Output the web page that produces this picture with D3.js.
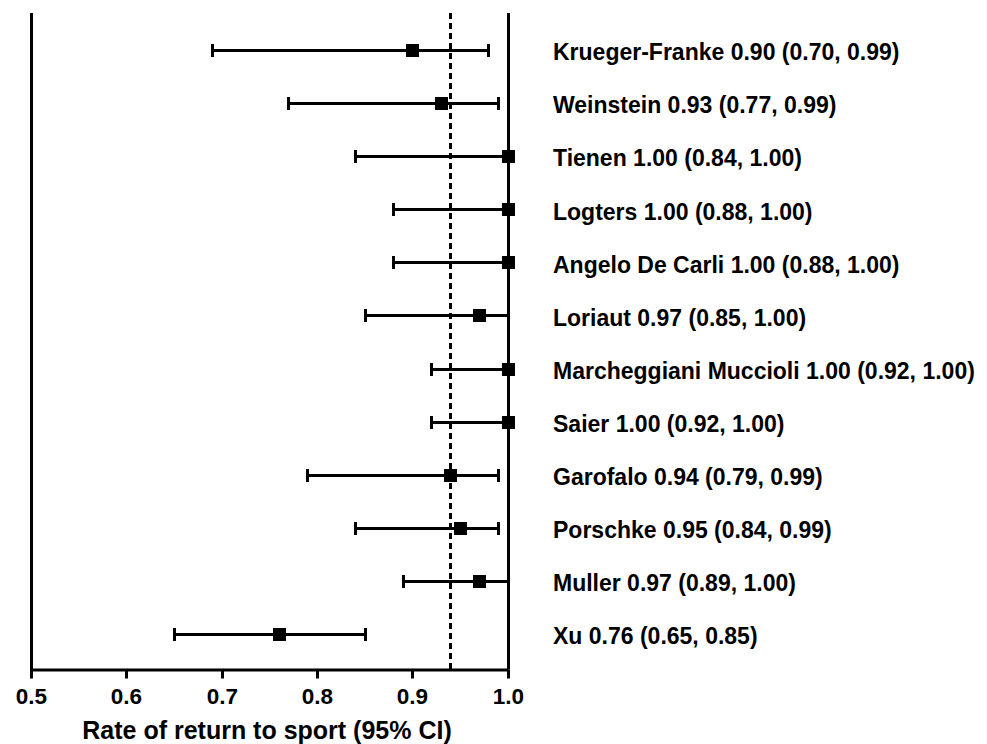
<!DOCTYPE html>
<html>
<head>
<meta charset="utf-8">
<script src="https://cdn.jsdelivr.net/npm/d3@7"></script>
<style>
  html, body { margin: 0; padding: 0; background: #fff; }
  svg { display: block; }
  text { font-family: "Liberation Sans", Arial, sans-serif; font-weight: bold; fill: #000; }
</style>
</head>
<body>
<svg id="chart" width="987" height="744"></svg>
<script>
// ---- data ----
const studies = ["Krueger-Franke", "Weinstein", "Tienen", "Logters", "Angelo De Carli", "Loriaut",
  "Marcheggiani Muccioli", "Saier", "Garofalo", "Porschke", "Muller", "Xu"];
const estimates = [0.90, 0.93, 1.00, 1.00, 1.00, 0.97, 1.00, 1.00, 0.94, 0.95, 0.97, 0.76];
const lowerCI   = [0.69, 0.77, 0.84, 0.88, 0.88, 0.85, 0.92, 0.92, 0.79, 0.84, 0.89, 0.65];
const upperCI   = [0.98, 0.99, 1.00, 1.00, 1.00, 1.00, 1.00, 1.00, 0.99, 0.99, 1.00, 0.85];
const labelText = ["0.90 (0.70, 0.99)", "0.93 (0.77, 0.99)", "1.00 (0.84, 1.00)", "1.00 (0.88, 1.00)",
  "1.00 (0.88, 1.00)", "0.97 (0.85, 1.00)", "1.00 (0.92, 1.00)", "1.00 (0.92, 1.00)",
  "0.94 (0.79, 0.99)", "0.95 (0.84, 0.99)", "0.97 (0.89, 1.00)", "0.76 (0.65, 0.85)"];
const pooled = 0.94;
const noEffect = 1.0;
const xTicks = [0.5, 0.6, 0.7, 0.8, 0.9, 1.0];
const xTitle = "Rate of return to sport (95% CI)";

const rows = studies.map((s, i) => ({ name: s, est: estimates[i], lo: lowerCI[i], hi: upperCI[i], label: s + " " + labelText[i] }));

// ---- layout ----
const svg = d3.select("#chart");
const plotTop = 13, plotBottom = 669.5;
const x = d3.scaleLinear().domain([0.5, 1.0]).range([31.5, 508]);
const y = d3.scalePoint().domain(studies).range([50.7, 634.3]);
const crisp = v => Math.round(v - 0.5) + 0.5;   // align 3px strokes to pixel grid
const X = v => crisp(x(v));
const Y = n => crisp(y(n));

// x axis
const axis = svg.append("g")
  .attr("transform", `translate(0,${plotBottom})`)
  .call(d3.axisBottom(x).tickValues(xTicks).tickFormat(d3.format(".1f")).tickSize(9).tickSizeOuter(0).tickPadding(10));
axis.select(".domain").attr("stroke", "#000").attr("stroke-width", 3);
axis.selectAll(".tick").attr("transform", d => `translate(${X(d)},0)`);
axis.selectAll(".tick line").attr("stroke", "#000").attr("stroke-width", 3);
axis.selectAll(".tick text")
  .style("font-size", "22.5px")
  .style("font-family", '"Liberation Sans", Arial, sans-serif')
  .style("font-weight", "bold")
  .attr("fill", "#000");

// left axis line
svg.append("line")
  .attr("x1", X(0.5)).attr("x2", X(0.5))
  .attr("y1", plotTop).attr("y2", plotBottom + 1.5)
  .attr("stroke", "#000").attr("stroke-width", 3);

// no-effect line at 1.0
svg.append("line")
  .attr("x1", X(noEffect)).attr("x2", X(noEffect))
  .attr("y1", plotTop).attr("y2", plotBottom)
  .attr("stroke", "#000").attr("stroke-width", 3);

// pooled dashed line
svg.append("line")
  .attr("x1", X(pooled)).attr("x2", X(pooled))
  .attr("y1", plotTop).attr("y2", plotBottom)
  .attr("stroke", "#000").attr("stroke-width", 3)
  .attr("stroke-dasharray", "6,4");

// error bars
const g = svg.append("g");
const capH = 6.5;
g.selectAll(".ci").data(rows).join("line")
  .attr("x1", d => X(d.lo)).attr("x2", d => X(d.hi))
  .attr("y1", d => Y(d.name)).attr("y2", d => Y(d.name))
  .attr("stroke", "#000").attr("stroke-width", 3);
g.selectAll(".capL").data(rows).join("line")
  .attr("x1", d => X(d.lo)).attr("x2", d => X(d.lo))
  .attr("y1", d => Y(d.name) - capH).attr("y2", d => Y(d.name) + capH)
  .attr("stroke", "#000").attr("stroke-width", 3);
g.selectAll(".capR").data(rows.filter(d => d.hi < 1.0)).join("line")
  .attr("x1", d => X(d.hi)).attr("x2", d => X(d.hi))
  .attr("y1", d => Y(d.name) - capH).attr("y2", d => Y(d.name) + capH)
  .attr("stroke", "#000").attr("stroke-width", 3);

// markers
const sz = 13;
g.selectAll(".pt").data(rows).join("rect")
  .attr("x", d => X(d.est) - sz / 2).attr("y", d => Y(d.name) - sz / 2)
  .attr("width", sz).attr("height", sz).attr("fill", "#000");

// study labels
svg.selectAll(".lbl").data(rows).join("text")
  .attr("x", 553).attr("y", d => y(d.name))
  .attr("dy", "0.42em")
  .attr("font-size", 23)
  .text(d => d.label);

// x title
svg.append("text")
  .attr("x", 267).attr("y", 738.5)
  .attr("text-anchor", "middle")
  .attr("font-size", 25)
  .text(xTitle);
</script>
</body>
</html>
